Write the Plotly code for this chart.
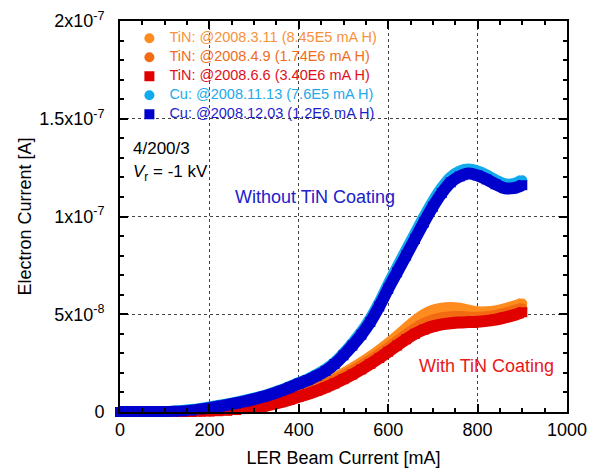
import plotly.graph_objects as go

# Beam current grid [mA]
beam_current = [0, 20, 40, 60, 80, 100, 120, 140, 160, 180, 200, 220, 240, 260, 280, 300,
                320, 340, 360, 380, 400, 420, 440, 460, 480, 500, 520, 540, 560, 580, 600,
                620, 640, 660, 680, 700, 720, 740, 760, 780, 800, 820, 840, 860, 880, 900]

# Electron current in units of 1e-8 A
tin_0311 = [0, 0, 0, 0, 0, 0, 0, 0, 0.01, 0.02, 0.04, 0.07, 0.1, 0.15, 0.22, 0.3,
            0.4, 0.52, 0.65, 0.8, 0.96, 1.12, 1.3, 1.5, 1.72, 1.96, 2.22, 2.5, 2.8, 3.13, 3.48,
            3.86, 4.26, 4.64, 4.96, 5.18, 5.29, 5.32, 5.28, 5.18, 5.1, 5.1, 5.15, 5.25, 5.38, 5.55]
tin_0409 = [0, 0, 0, 0, 0, 0, 0, 0, 0.01, 0.02, 0.03, 0.06, 0.09, 0.14, 0.2, 0.27,
            0.36, 0.47, 0.59, 0.73, 0.88, 1.04, 1.21, 1.4, 1.61, 1.84, 2.08, 2.35, 2.63, 2.93, 3.25,
            3.59, 3.93, 4.24, 4.5, 4.68, 4.8, 4.85, 4.86, 4.83, 4.82, 4.85, 4.92, 5.02, 5.15, 5.3]
tin_0606 = [0, 0, 0, 0, 0, 0, 0, 0, 0, 0.01, 0.02, 0.04, 0.06, 0.1, 0.15, 0.21,
            0.29, 0.39, 0.5, 0.63, 0.78, 0.92, 1.08, 1.26, 1.46, 1.68, 1.92, 2.18, 2.46, 2.76, 3.08,
            3.4, 3.72, 4.0, 4.22, 4.38, 4.48, 4.54, 4.58, 4.6, 4.62, 4.66, 4.73, 4.83, 4.95, 5.1]
cu_1113 = [0, 0, 0, 0, 0, 0, 0.02, 0.05, 0.1, 0.16, 0.23, 0.31, 0.39, 0.48, 0.58, 0.69,
           0.81, 0.95, 1.11, 1.29, 1.48, 1.67, 1.9, 2.17, 2.52, 2.98, 3.5, 4.07, 4.75, 5.57, 6.5,
           7.38, 8.25, 9.1, 9.95, 10.75, 11.45, 12.0, 12.3, 12.4, 12.3, 12.1, 11.85, 11.65, 11.65, 11.85]
cu_1203 = [0, 0, 0, 0, 0, 0, 0.01, 0.03, 0.07, 0.13, 0.2, 0.28, 0.36, 0.45, 0.55, 0.66,
           0.78, 0.92, 1.08, 1.26, 1.45, 1.63, 1.85, 2.1, 2.45, 2.9, 3.4, 3.95, 4.6, 5.4, 6.3,
           7.15, 8.0, 8.85, 9.7, 10.5, 11.2, 11.75, 12.05, 12.2, 12.1, 11.9, 11.65, 11.45, 11.45, 11.6]

series_names = ["TiN: @2008.3.11 (8.45E5 mA H)", "TiN: @2008.4.9 (1.74E6 mA H)",
                "TiN: @2008.6.6 (3.40E6 mA H)", "Cu: @2008.11.13 (7.6E5 mA H)",
                "Cu: @2008.12.03 (1.2E6 mA H)"]
series_values = [tin_0311, tin_0409, tin_0606, cu_1113, cu_1203]
marker_colors = ["#FF8C1E", "#F26A12", "#E00000", "#10AAEE", "#0000CC"]
text_colors = ["#F7923C", "#EF6E1E", "#E0101A", "#22AAE8", "#1E1ECC"]
symbols = ["circle", "circle", "square", "circle", "square"]

y_tickvals = [0, 5e-8, 1e-7, 1.5e-7, 2e-7]
y_ticktext = ["0", "5x10<sup>-8</sup>", "1x10<sup>-7</sup>", "1.5x10<sup>-7</sup>", "2x10<sup>-7</sup>"]
x_tickvals = [0, 200, 400, 600, 800, 1000]

FONT = "Arial, Liberation Sans, sans-serif"

fig = go.Figure()
for name, vals, mc, tc, sym in zip(series_names, series_values, marker_colors, text_colors, symbols):
    yv = [v * 1e-8 for v in vals]
    fig.add_trace(go.Scatter(x=beam_current, y=yv, mode="lines",
                             line=dict(color=mc, width=12, shape="spline"),
                             showlegend=False, hoverinfo="skip", cliponaxis=False))
    fig.add_trace(go.Scatter(x=beam_current, y=yv, mode="markers",
                             marker=dict(color=mc, size=10, symbol=sym, line=dict(width=0)),
                             name='<span style="font-size:14.5px;color:%s">%s</span>' % (tc, name),
                             cliponaxis=False))

axis_common = dict(showline=True, linecolor="black", linewidth=2, mirror="ticks",
                   ticks="inside", ticklen=8, tickwidth=1.5, tickcolor="black",
                   showgrid=True, gridcolor="#444444", griddash="dot", gridwidth=1,
                   zeroline=False, tickfont=dict(family=FONT, size=18, color="black"))

fig.update_xaxes(range=[0, 1000], tickvals=x_tickvals,
                 minor=dict(ticks="inside", ticklen=4, dtick=50, tick0=0, tickcolor="black", showgrid=False),
                 title=dict(text="LER Beam Current [mA]", font=dict(family=FONT, size=18, color="black"), standoff=13),
                 **axis_common)
fig.update_yaxes(range=[0, 2e-7], tickvals=y_tickvals, ticktext=y_ticktext, ticklabelstandoff=10,
                 minor=dict(ticks="inside", ticklen=4, dtick=1e-8, tick0=0, tickcolor="black", showgrid=False),
                 title=dict(text="Electron Current [A]", font=dict(family=FONT, size=18, color="black"), standoff=3),
                 **axis_common)

annotations = [
    dict(text="4/200/3", x=0.024, y=0.675, xanchor="left", yanchor="middle",
         font=dict(family=FONT, size=17, color="black")),
    dict(text="<i>V</i><sub>r</sub> = -1 kV", x=0.024, y=0.61, xanchor="left", yanchor="middle",
         font=dict(family=FONT, size=17, color="black")),
    dict(text="Without TiN Coating", x=0.436, y=0.55, xanchor="center", yanchor="middle",
         font=dict(family=FONT, size=18, color="#2020CC")),
    dict(text="With TiN Coating", x=0.82, y=0.118, xanchor="center", yanchor="middle",
         font=dict(family=FONT, size=18, color="#E81818")),
]
for a in annotations:
    a.update(xref="paper", yref="paper", showarrow=False)

# white panel behind the legend hides the gridlines there (drawn between grid and data)
legend_panel = dict(type="rect", xref="paper", yref="paper", x0=0.004, x1=0.597, y0=0.745, y1=0.996,
                    fillcolor="white", line=dict(width=0), layer="between")

# the page body adds an 8px offset, so margins are compensated
fig.update_layout(
    width=597, height=470,
    margin=dict(l=112, r=38, t=13, b=66, autoexpand=False),
    plot_bgcolor="white", paper_bgcolor="white",
    annotations=annotations,
    shapes=[legend_panel],
    legend=dict(x=0.021, y=0.993, xanchor="left", yanchor="top", bgcolor="rgba(0,0,0,0)",
                borderwidth=0, font=dict(family=FONT, size=10, color="black"),
                itemwidth=30, tracegroupgap=0),
    showlegend=True,
)

fig.write_html("out.html")
